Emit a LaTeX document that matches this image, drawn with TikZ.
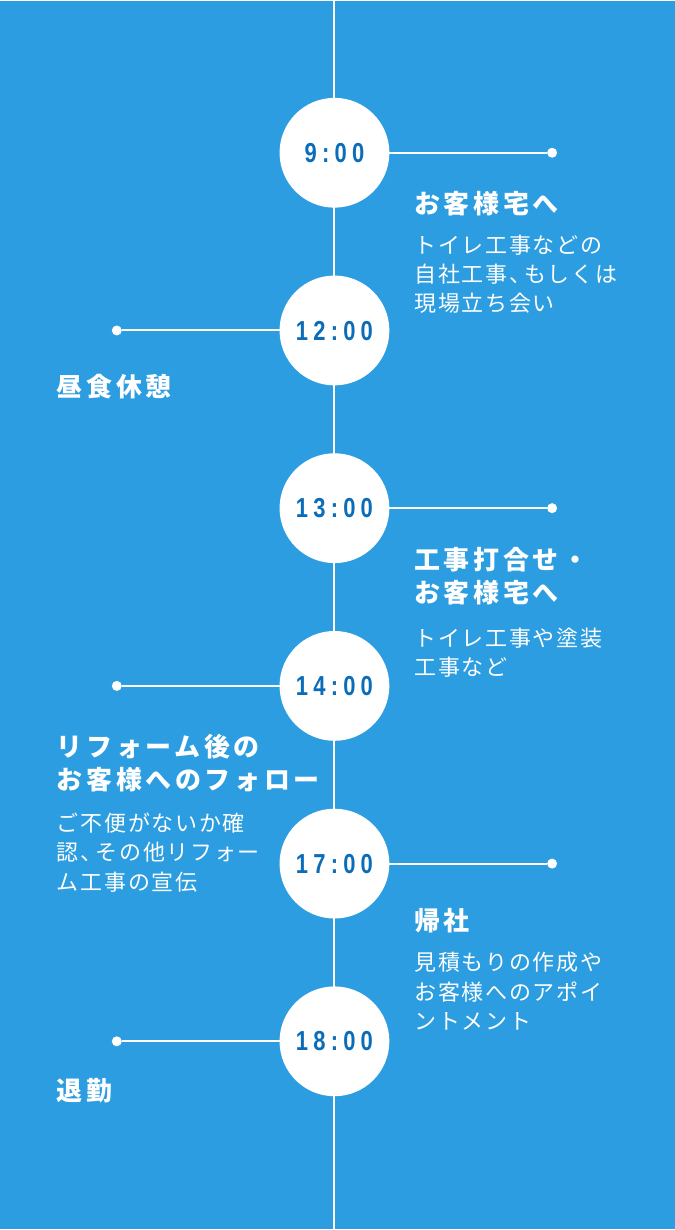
\documentclass[tikz,border=0pt]{standalone}
\usepackage{fontspec}
\setmainfont{Noto Sans CJK JP}
\newfontfamily\numfont{Liberation Sans}[FakeStretch=0.8,LetterSpace=19]
\usepackage{tikz}
\usetikzlibrary{positioning}
\definecolor{bgblue}{HTML}{2B9DE0}
\definecolor{numblue}{HTML}{0B6DBA}

\begin{document}
\begin{tikzpicture}[x=1pt, y=-1pt, line width=2pt, white,
  stop/.style={circle, fill=white, minimum size=110pt, inner sep=0pt, outer sep=0pt, text=numblue, text depth=0pt, font=\numfont\bfseries\fontsize{27.5}{27.5}\selectfont},
  dot/.style={circle, fill=white, minimum size=10pt, inner sep=0pt, outer sep=0pt},
  head/.style={anchor=base west, align=left, inner sep=0pt, text=white, font=\bfseries\fontsize{26}{33}\selectfont\addfontfeature{LetterSpace=14}},
  body/.style={anchor=base west, align=left, inner sep=0pt, text=white, font=\fontsize{22}{29.5}\selectfont\addfontfeature{LetterSpace=8}}]
  \fill[bgblue] (0,0) rectangle (676,1230);
  \coordinate (top) at (335,0);
  \coordinate (bottom) at (335,1230);
  \draw (top) -- (bottom);
  % time circles
  \node[stop] (t9) at (335,152) {9:00};
  \node[stop, below=68pt of t9] (t12) {12:00};
  \node[stop, below=68pt of t12] (t13) {13:00};
  \node[stop, below=68pt of t13] (t14) {14:00};
  \node[stop, below=68pt of t14] (t17) {17:00};
  \node[stop, below=68pt of t17] (t18) {18:00};
  % branches
  \node[dot, right=158pt of t9] (d9) {};
  \node[dot, left=158pt of t12] (d12) {};
  \node[dot, right=158pt of t13] (d13) {};
  \node[dot, left=158pt of t14] (d14) {};
  \node[dot, right=158pt of t17] (d17) {};
  \node[dot, left=158pt of t18] (d18) {};
  \draw (t9) -- (d9);
  \draw (t12) -- (d12);
  \draw (t13) -- (d13);
  \draw (t14) -- (d14);
  \draw (t17) -- (d17);
  \draw (t18) -- (d18);
  % texts (base = last line)
  \node[head] (h9) at (414,212.5) {お客様宅へ};
  \node[body] (b9) at (414,311.5) {トイレ工事などの\\自社工事、\kern-7pt もしくは\\現場立ち会い};
  \node[head] (h12) at (56,396.5) {昼食休憩};
  \node[head] (h13) at (414,602.5) {工事打合せ・\\お客様宅へ};
  \node[body] (b13) at (414,676) {トイレ工事や塗装\\工事など};
  \node[head] (h14) at (56,789.5) {リフォーム後の\\お客様へのフォロー};
  \node[body] (b14) at (56,890.5) {ご不便がないか確\\認、\kern-7pt その他リフォー\\ム工事の宣伝};
  \node[head] (h17) at (414,931.5) {帰社};
  \node[body] (b17) at (414,1030.5) {見積もりの作成や\\お客様へのアポイ\\ントメント};
  \node[head] (h18) at (56,1101.5) {退勤};
\end{tikzpicture}
\end{document}
